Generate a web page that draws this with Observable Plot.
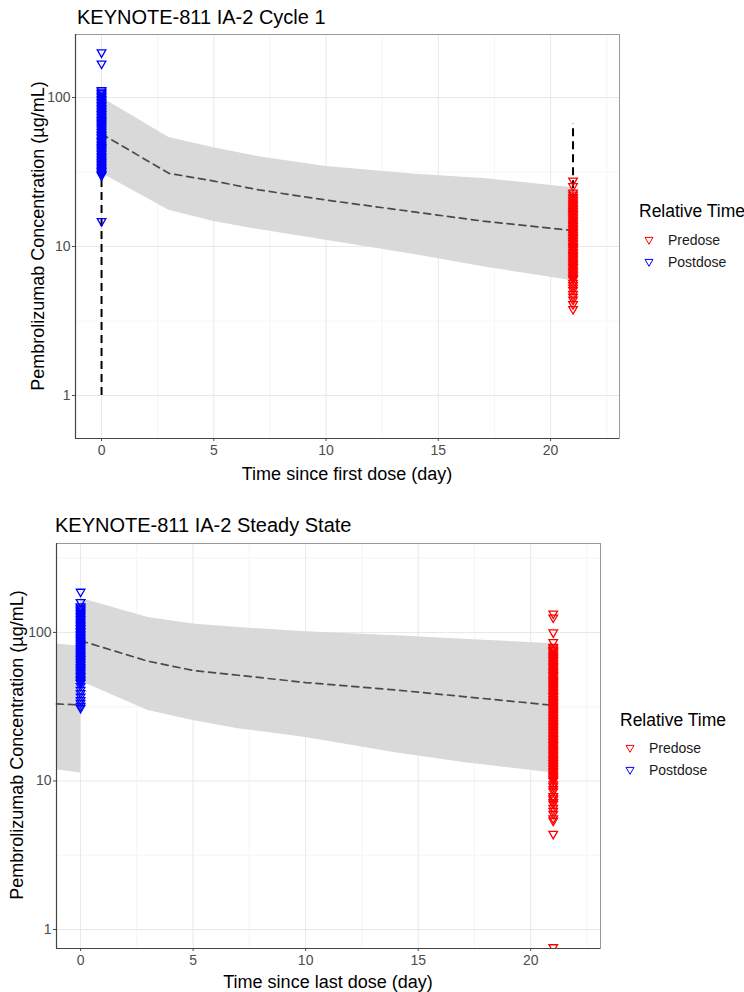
<!DOCTYPE html>
<html><head><meta charset="utf-8">
<script src="https://cdn.jsdelivr.net/npm/d3@7"></script>
<script src="https://cdn.jsdelivr.net/npm/@observablehq/plot@0.6"></script>
<style>
body{margin:0;background:#fff;font-family:"Liberation Sans",Arial,sans-serif;}
#root{position:relative;width:744px;height:992px;overflow:hidden;background:#fff;}
.abs{position:absolute;white-space:nowrap;line-height:1;}
.title{font-size:20px;color:#000;transform:translateY(-50%);}
.axlab{font-size:18px;color:#000;transform:translate(-50%,-50%);}
.ylab{font-size:18px;color:#000;transform:translate(-50%,-50%) rotate(-90deg);}
.legtitle{font-size:17.5px;color:#000;transform:translateY(-50%);}
.legitem{font-size:14px;color:#1a1a1a;transform:translateY(-50%);}
.legsym{transform:translate(-50%,-50%);}
</style></head>
<body><div id="root"></div>
<script>
// ---------- shared labels / ticks ----------
const relTimeCategories = ["Predose", "Postdose"];
const relTimeColors = ["red", "blue"];
const legendTitle = "Relative Time";
const yAxisTitle = "Pembrolizumab Concentration (\u00b5g/mL)";
const xTicks = [0, 5, 10, 15, 20];
const xMinorGrid = [2.5, 7.5, 12.5, 17.5, 22.5];
const yTicks = [1, 10, 100];
const yMinorGrid = [3.1623, 31.623, 316.23];

// ---------- Panel 1: Cycle 1 ----------
const c1Title = "KEYNOTE-811 IA-2 Cycle 1";
const c1XTitle = "Time since first dose (day)";
const c1Time   = [0, 3, 5, 7, 10, 14, 17, 21];
const c1Median = [57, 31, 27.5, 24, 20.5, 17, 14.8, 12.8];
const c1Lower  = [31, 17.5, 14.7, 13, 11, 8.8, 7.3, 5.9];
const c1Upper  = [100, 54, 46, 40, 34.5, 30.5, 28.6, 24.8];
const c1DoseLineTime = [0, 21];
const c1DoseLineLow  = [1, 20];
const c1DoseLineHigh = [35, 67];
const c1PostdoseTime = 0;
const c1PostdoseConc = [201, 169, 112, 109.5, 107, 104.5, 102, 100, 97.5, 95.5, 93, 91, 89, 87, 85, 83, 81, 79, 77.5, 75.5, 74, 72, 70.5, 69, 67.5, 66, 64.5, 63, 61.5, 60, 58.5, 57, 56, 54.5, 53.5, 52, 51, 50, 48.5, 47.5, 46.5, 45.5, 44.5, 43.5, 42.5, 41.5, 40.5, 39.5, 38.5, 37.5, 36.7, 35.9, 35, 34.2, 33.4, 32.7, 32, 31.3, 30.6, 30, 14.8];
const c1PredoseTime = 21;
const c1PredoseConc = [27.7, 25.4, 23, 22.3, 21.5, 21, 20.5, 20, 19.5, 19, 18.6, 18.1, 17.7, 17.3, 16.9, 16.5, 16.1, 15.7, 15.4, 15, 14.7, 14.3, 14, 13.7, 13.4, 13.1, 12.8, 12.5, 12.2, 11.9, 11.6, 11.4, 11.1, 10.9, 10.6, 10.4, 10.1, 9.9, 9.7, 9.5, 9.2, 9, 8.8, 8.6, 8.4, 8.2, 8, 7.8, 7.7, 7.5, 7.3, 7.2, 7, 6.8, 6.7, 6.5, 6.4, 6.2, 6.1, 6, 5.7, 5.5, 5.3, 5.1, 4.8, 4.6, 4.4, 4.1, 3.8];

// ---------- Panel 2: Steady State ----------
const ssTitle = "KEYNOTE-811 IA-2 Steady State";
const ssXTitle = "Time since last dose (day)";
const ssPrevTime   = [-1.07, 0];
const ssPrevMedian = [33, 32.5];
const ssPrevLower  = [11.9, 11.3];
const ssPrevUpper  = [83.5, 80.6];
const ssTime   = [0, 3, 5, 7, 10, 14, 17, 21];
const ssMedian = [88, 64, 55.5, 51.5, 46, 41, 37, 32.3];
const ssLower  = [47, 29.8, 25.5, 22.5, 19.6, 15.5, 13.3, 11.3];
const ssUpper  = [170, 126, 114, 108, 101, 95, 90, 84];
const ssPostdoseTime = 0;
const ssPostdoseConc = [188, 160, 150, 147, 144, 141, 138, 135, 132, 129, 126, 123, 120, 117, 114.5, 112, 109.5, 107, 104.5, 102, 100, 97.5, 95.5, 93, 91, 89, 87, 85, 83, 81, 79, 77.5, 75.5, 74, 72, 70.5, 69, 67.5, 66, 64.5, 63, 61.5, 60, 58.5, 57, 56, 54.5, 53.5, 52, 51, 50, 48.5, 47.5, 46.5, 45.5, 43.5, 41, 39, 37, 35, 33.5, 32, 31];
const ssPredoseTime = 21;
const ssPredoseConc = [134, 126, 100, 86, 80, 78, 76, 74.5, 73, 71, 69.5, 68, 66.5, 65, 63.5, 62, 60.5, 59, 58, 56.5, 55, 54, 52.5, 51.5, 50.5, 49, 48, 47, 46, 45, 44, 43, 42, 41, 40, 39, 38, 37.3, 36.5, 35.6, 34.8, 34, 33.3, 32.5, 31.8, 31, 30.3, 29.6, 29, 28.3, 27.7, 27, 26.4, 25.8, 25.2, 24.6, 24, 23.5, 23, 22.4, 21.9, 21.4, 20.9, 20.4, 20, 19.5, 19.1, 18.6, 18.2, 17.8, 17.4, 17, 16.6, 16.2, 15.8, 15.5, 15.1, 14.8, 14.4, 14.1, 13.8, 13.5, 13.2, 12.9, 12.6, 12.3, 12, 11.7, 11.5, 11.2, 10.9, 10.7, 10.4, 10.2, 10, 9.5, 9.2, 8.8, 8.5, 7.9, 7.7, 7.5, 7.2, 7, 6.6, 6.3, 6, 5.6, 5.4, 4.4, 0.76];

// ---------- helpers ----------
const downTriangle = {
  draw(context, size) {
    const y = -Math.sqrt(size / (Math.sqrt(3) * 3));
    context.moveTo(0, -2 * y);
    context.lineTo(-Math.sqrt(3) * y, y);
    context.lineTo(Math.sqrt(3) * y, y);
    context.closePath();
  }
};

function bandRows(seg, t, lo, hi, med) {
  return t.map((d, i) => ({seg, t: d, lo: lo[i], hi: hi[i], med: med[i]}));
}

function makePanel(o) {
  const post = o.postConc.map(c => ({t: o.postTime, c}));
  const pre = o.preConc.map(c => ({t: o.preTime, c}));
  const dose = (o.doseT || []).map((t, i) => ({t, lo: o.doseLo[i], hi: o.doseHi[i]}));
  return Plot.plot({
    width: 744, height: o.height,
    marginLeft: o.ml, marginRight: o.mr, marginTop: o.mt, marginBottom: o.mb,
    style: {fontFamily: '"Liberation Sans", Arial, sans-serif', fontSize: "14px", color: "#4d4d4d", background: "transparent", overflow: "visible"},
    x: {domain: o.xDomain, ticks: xTicks, tickSize: 3, tickPadding: 4, label: null, tickFormat: d => String(d)},
    y: {type: "log", domain: o.yDomain, ticks: yTicks, tickSize: 3, tickPadding: 2, label: null, tickFormat: d => String(d)},
    marks: [
      Plot.ruleX(xMinorGrid, {stroke: "#f2f2f2", strokeWidth: 0.8}),
      Plot.ruleY(yMinorGrid.filter(v => v > o.yDomain[0] && v < o.yDomain[1]), {stroke: "#f2f2f2", strokeWidth: 0.8}),
      Plot.ruleX(xTicks, {stroke: "#e8e8e8", strokeWidth: 1}),
      Plot.ruleY(yTicks, {stroke: "#e8e8e8", strokeWidth: 1}),
      Plot.areaY(o.band, {x: "t", y1: "lo", y2: "hi", z: "seg", fill: "#d9d9d9", curve: "linear"}),
      Plot.line(o.band, {x: "t", y: "med", z: "seg", stroke: "#4a4a4a", strokeWidth: 1.7, strokeDasharray: "7,5"}),
      Plot.ruleX(dose, {x: "t", y1: "lo", y2: "hi", stroke: "black", strokeWidth: 2, strokeDasharray: "8,5"}),
      Plot.dot(post, {x: "t", y: "c", symbol: downTriangle, r: 3.2, stroke: relTimeColors[1], fill: "none", strokeWidth: 1.3, clip: true}),
      Plot.dot(pre, {x: "t", y: "c", symbol: downTriangle, r: 3.2, stroke: relTimeColors[0], fill: "none", strokeWidth: 1.3, clip: true}),
      Plot.frame({stroke: "#9a9a9a", strokeWidth: 1}),
      Plot.ruleX([o.xDomain[0]], {stroke: "#444", strokeWidth: 1.2}),
      Plot.ruleY([o.yDomain[0]], {stroke: "#444", strokeWidth: 1.2})
    ]
  });
}

const root = document.getElementById("root");
function addDiv(cls, text, left, top) {
  const d = document.createElement("div");
  d.className = "abs " + cls;
  d.textContent = text;
  d.style.left = left + "px";
  d.style.top = top + "px";
  root.appendChild(d);
  return d;
}
function addSvgWrap(svg, top) {
  const w = document.createElement("div");
  w.className = "abs";
  w.style.left = "0px";
  w.style.top = top + "px";
  w.appendChild(svg);
  root.appendChild(w);
}
function addLegend(x, yTitle, yFirst, step) {
  addDiv("legtitle", legendTitle, x, yTitle);
  relTimeCategories.forEach((cat, i) => {
    const y = yFirst + i * step;
    const s = document.createElement("div");
    s.className = "abs legsym";
    s.style.left = (x + 10) + "px";
    s.style.top = y + "px";
    s.innerHTML = `<svg width="12" height="12" viewBox="-6 -6 12 12" style="display:block"><path d="M-4,-2.6L4,-2.6L0,4.3Z" fill="none" stroke="${relTimeColors[i]}" stroke-width="1"/></svg>`;
    root.appendChild(s);
    addDiv("legitem", cat, x + 29, y);
  });
}

// ---------- Panel 1 ----------
addDiv("title", c1Title, 77, 17);
addSvgWrap(makePanel({
  height: 442, ml: 75, mr: 125, mt: 8, mb: 30,
  xDomain: [-1.16, 23.07], yDomain: [0.514, 265],
  band: bandRows("c1", c1Time, c1Lower, c1Upper, c1Median),
  doseT: c1DoseLineTime, doseLo: c1DoseLineLow, doseHi: c1DoseLineHigh,
  postTime: c1PostdoseTime, postConc: c1PostdoseConc,
  preTime: c1PredoseTime, preConc: c1PredoseConc
}), 26);
addDiv("axlab", c1XTitle, 347, 474);
addDiv("ylab", yAxisTitle, 38, 236);
addLegend(639, 212, 240, 22);

// ---------- Panel 2 ----------
addDiv("title", ssTitle, 55, 525);
addSvgWrap(makePanel({
  height: 443, ml: 56, mr: 144, mt: 8, mb: 30,
  xDomain: [-1.07, 23.1], yDomain: [0.745, 397],
  band: bandRows("prev", ssPrevTime, ssPrevLower, ssPrevUpper, ssPrevMedian)
    .concat(bandRows("cur", ssTime, ssLower, ssUpper, ssMedian)),
  postTime: ssPostdoseTime, postConc: ssPostdoseConc,
  preTime: ssPredoseTime, preConc: ssPredoseConc
}), 535);
addDiv("axlab", ssXTitle, 328, 982);
addDiv("ylab", yAxisTitle, 17, 745);
addLegend(620, 721, 748, 22);
</script>
</body></html>
